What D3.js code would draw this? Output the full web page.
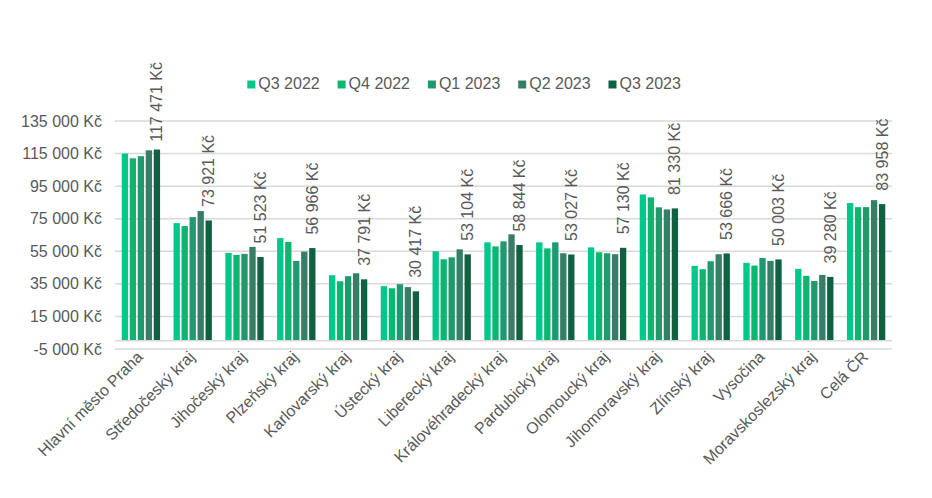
<!DOCTYPE html>
<html>
<head>
<meta charset="utf-8">
<script src="https://cdn.jsdelivr.net/npm/d3@7"></script>
<style>
  html, body { margin: 0; padding: 0; background: #fff; }
  svg { display: block; font-family: "Liberation Sans", Arial, sans-serif; }
</style>
</head>
<body>
<svg id="chart" width="932" height="498"></svg>
<script>
const categories = ["Hlavní město Praha", "Středočeský kraj", "Jihočeský kraj", "Plzeňský kraj", "Karlovarský kraj", "Ústecký kraj", "Liberecký kraj", "Královéhradecký kraj", "Pardubický kraj", "Olomoucký kraj", "Jihomoravský kraj", "Zlínský kraj", "Vysočina", "Moravskoslezský kraj", "Celá ČR"];
const seriesNames = ["Q3 2022", "Q4 2022", "Q1 2023", "Q2 2023", "Q3 2023"];
const q3_2022 = [115000, 72300, 54000, 63100, 40300, 33600, 55000, 60500, 60500, 57400, 89900, 46000, 47900, 44200, 84600];
const q4_2022 = [112100, 70500, 52800, 60700, 36600, 32300, 50100, 58000, 56800, 54400, 88100, 44000, 46200, 39900, 82100];
const q1_2023 = [113400, 76000, 53400, 49100, 39700, 34800, 51300, 61100, 60500, 53800, 82000, 48900, 50900, 36800, 82100];
const q2_2023 = [117000, 79700, 57700, 54800, 41500, 33000, 56200, 65400, 53800, 53200, 80700, 53200, 49100, 40500, 86400];
const q3_2023 = [117471, 73921, 51523, 56966, 37791, 30417, 53104, 58844, 53027, 57130, 81330, 53666, 50003, 39280, 83958];
const yTicks = [-5000, 15000, 35000, 55000, 75000, 95000, 115000, 135000];
const colors = ["#00C88A", "#0DB670", "#1F9A6F", "#377E67", "#0F6141"];

const seriesValues = [q3_2022, q4_2022, q1_2023, q2_2023, q3_2023];
const fmt = v => d3.format(",")(v).replace(/,/g, " ").replace(/\u2212/g, "-") + " Kč";

const svg = d3.select("#chart");
const textColor = "#595959";
const plotLeft = 115, plotRight = 892, plotTop = 121, plotBottom = 349;

const x0 = d3.scaleBand().domain(categories).range([plotLeft, plotRight]).padding(0);
const groupW = 38.33;
const x1 = d3.scaleBand().domain(seriesNames)
  .range([(x0.bandwidth() - groupW) / 2, (x0.bandwidth() + groupW) / 2])
  .paddingInner(0.209).paddingOuter(0);
const y = d3.scaleLinear().domain([-5000, 135000]).range([plotBottom, plotTop]);

// gridlines
svg.append("g").selectAll("line").data(yTicks).join("line")
  .attr("x1", plotLeft).attr("x2", plotRight)
  .attr("y1", d => y(d)).attr("y2", d => y(d))
  .attr("stroke", "#D9D9D9").attr("stroke-width", 1.5);

// y axis labels
svg.append("g").selectAll("text").data(yTicks).join("text")
  .attr("x", 102).attr("y", d => y(d))
  .attr("text-anchor", "end").attr("dominant-baseline", "central")
  .attr("fill", textColor).attr("font-size", 16)
  .text(d => fmt(d));

// bars
const groups = svg.append("g").selectAll("g").data(categories).join("g")
  .attr("transform", d => `translate(${x0(d)},0)`);
groups.selectAll("rect")
  .data((c, i) => seriesNames.map((s, j) => ({ s, v: seriesValues[j][i], j })))
  .join("rect")
  .attr("x", d => x1(d.s)).attr("width", x1.bandwidth())
  .attr("y", d => y(Math.max(0, d.v)))
  .attr("height", d => Math.abs(y(d.v) - y(0)))
  .attr("fill", d => colors[d.j]);

// horizontal axis line at 0
svg.append("line").attr("x1", plotLeft).attr("x2", plotRight)
  .attr("y1", y(0)).attr("y2", y(0))
  .attr("stroke", "#D9D9D9").attr("stroke-width", 1.5);

// data labels for last series
const lastName = seriesNames[seriesNames.length - 1];
svg.append("g").selectAll("text").data(categories).join("text")
  .attr("font-size", 16).attr("fill", textColor)
  .attr("text-anchor", "start").attr("dominant-baseline", "central")
  .text((c, i) => fmt(q3_2023[i]))
  .each(function (c, i) {
    const el = d3.select(this);
    const len = this.getComputedTextLength();
    const cx = x0(c) + x1(lastName) + x1.bandwidth() / 2;
    let start = y(q3_2023[i]) - 13.5;
    if (start - len < 62) start = 62 + len;
    el.attr("transform", `translate(${cx},${start}) rotate(-90)`);
  });

// x axis labels
svg.append("g").selectAll("text").data(categories).join("text")
  .attr("font-size", 16).attr("fill", textColor)
  .attr("text-anchor", "end").attr("dy", "0.35em")
  .attr("transform", d => `translate(${x0(d) + x0.bandwidth() / 2 - 1},354) rotate(-45)`)
  .text(d => d);

// legend
const legend = svg.append("g").selectAll("g").data(seriesNames).join("g")
  .attr("transform", (d, i) => `translate(${247.3 + i * 90.3},0)`);
legend.append("rect").attr("x", 0).attr("y", 80.5).attr("width", 8).attr("height", 8)
  .attr("fill", (d, i) => colors[i]);
legend.append("text").attr("x", 11).attr("y", 83.5)
  .attr("dominant-baseline", "central").attr("font-size", 16).attr("fill", textColor)
  .text(d => d);
</script>
</body>
</html>
